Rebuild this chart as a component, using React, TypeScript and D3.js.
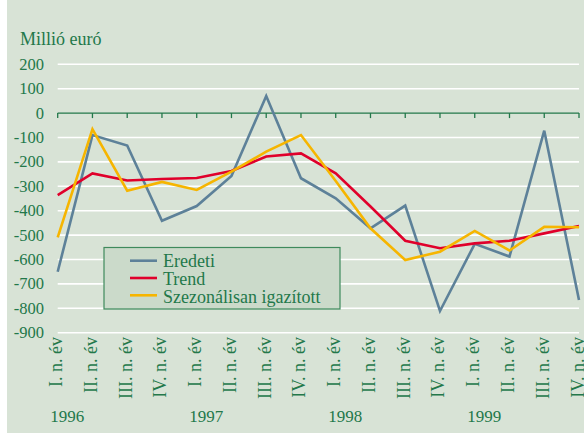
import React from "react";
import * as d3 from "d3";

const quarters = ["I. n. év", "II. n. év", "III. n. év", "IV. n. év"];
const years = ["1996", "1997", "1998", "1999"];
const categories = years.flatMap((y) => quarters.map((q) => `${y} ${q}`));

const eredeti = [-650, -90, -133, -441, -381, -258, 70, -267, -349, -472, -379, -811, -536, -588, -72, -766];
const trend = [-336, -247, -276, -270, -266, -237, -178, -165, -247, -383, -523, -554, -534, -523, -493, -463];
const szezonalis = [-509, -66, -318, -282, -315, -240, -158, -90, -278, -472, -602, -568, -483, -563, -466, -468];

const yTicks = [200, 100, 0, -100, -200, -300, -400, -500, -600, -700, -800, -900];

const seriesList = [
  { name: "Eredeti", values: eredeti, color: "#5d8199" },
  { name: "Trend", values: trend, color: "#e0002b" },
  { name: "Szezonálisan igazított", values: szezonalis, color: "#f6b500" },
];

const W = 584;
const H = 434;
const GREEN = "#23784a";
const BG = "#d8e3d6";
const FONT = "'Liberation Serif', 'Times New Roman', serif";

export default function App() {
  const x = d3.scalePoint<string>().domain(categories).range([57.7, 579]);
  const y = d3.scaleLinear().domain([-900, 200]).range([332.7, 64.3]);

  const line = d3
    .line<number>()
    .x((_, i) => x(categories[i]) as number)
    .y((d) => y(d));

  return (
    <svg
      width={W}
      height={H}
      style={{ position: "absolute", left: 0, top: 0, fontFamily: FONT }}
    >
      <rect x={0} y={0} width={W} height={H} fill="#ffffff" />
      <rect x={7} y={0} width={W - 7} height={433} fill={BG} />

      <text x={20} y={45} fontSize={18} fill={GREEN}>
        Millió euró
      </text>

      {/* gridlines */}
      {yTicks.map((t) =>
        t === 0 ? null : (
          <line
            key={t}
            x1={57.7}
            x2={579}
            y1={y(t)}
            y2={y(t)}
            stroke="#ffffff"
            strokeWidth={1.6}
          />
        )
      )}

      {/* y tick labels */}
      {yTicks.map((t) => (
        <text
          key={t}
          x={44}
          y={y(t) + 5.5}
          fontSize={16.5}
          fill={GREEN}
          textAnchor="end"
        >
          {t}
        </text>
      ))}

      {/* zero axis with ticks */}
      <line x1={57.7} x2={579} y1={y(0)} y2={y(0)} stroke={GREEN} strokeWidth={1.3} />
      {categories.map((c) => (
        <line
          key={c}
          x1={x(c)}
          x2={x(c)}
          y1={y(0)}
          y2={y(0) + 5}
          stroke={GREEN}
          strokeWidth={1.3}
        />
      ))}

      {/* series */}
      {seriesList.map((s) => (
        <path
          key={s.name}
          d={line(s.values) || ""}
          fill="none"
          stroke={s.color}
          strokeWidth={2.6}
          strokeLinejoin="miter"
        />
      ))}

      {/* x labels */}
      {categories.map((c, i) => {
        const px = (x(c) as number) + 4.5;
        return (
          <text
            key={c}
            transform={`translate(${px},337) rotate(-90)`}
            fontSize={18}
            fill={GREEN}
            textAnchor="end"
          >
            {quarters[i % 4]}
          </text>
        );
      })}

      {years.map((yr, i) => (
        <text
          key={yr}
          x={(x(categories[i * 4]) as number) - 7.5}
          y={421.5}
          fontSize={17}
          fill={GREEN}
        >
          {yr}
        </text>
      ))}

      {/* legend */}
      <rect
        x={104}
        y={247.5}
        width={236}
        height={61.5}
        fill="#cbdaca"
        stroke="#3f8a5c"
        strokeWidth={1.2}
      />
      {seriesList.map((s, i) => (
        <g key={s.name}>
          <line
            x1={130}
            x2={157}
            y1={260.7 + i * 17.3}
            y2={260.7 + i * 17.3}
            stroke={s.color}
            strokeWidth={2.6}
          />
          <text x={163} y={266.5 + i * 18} fontSize={18} fill={GREEN}>
            {s.name}
          </text>
        </g>
      ))}
    </svg>
  );
}
